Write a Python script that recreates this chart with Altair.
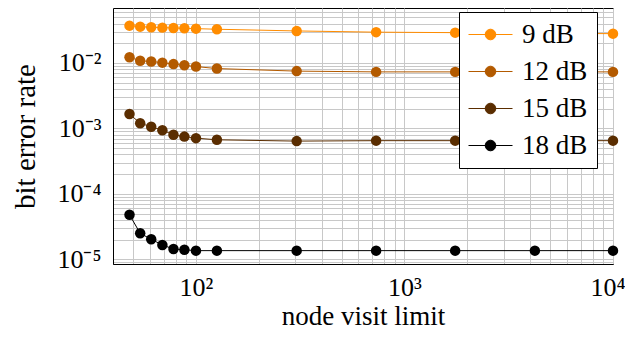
import altair as alt
import pandas as pd

# Data
node_limit = [48, 54, 61, 69, 78, 88, 100, 126, 304, 731, 1750, 4220, 10000]
series_names = ["9 dB", "12 dB", "15 dB", "18 dB"]
ber_9 = [0.0371, 0.0358, 0.0351, 0.0346, 0.0342, 0.0339, 0.0334, 0.0327, 0.0308, 0.0295, 0.0290, 0.0283, 0.0280]
ber_12 = [0.0122, 0.0108, 0.0105, 0.0101, 0.0096, 0.0092, 0.0088, 0.0082, 0.0075, 0.0073, 0.0073, 0.0073, 0.0073]
ber_15 = [0.00166, 0.00120, 0.00106, 0.00094, 0.00080, 0.00075, 0.00071, 0.00067, 0.00064, 0.00065, 0.00065, 0.00065, 0.00065]
ber_18 = [4.8e-5, 2.5e-5, 2.03e-5, 1.66e-5, 1.44e-5, 1.40e-5, 1.36e-5, 1.36e-5, 1.36e-5, 1.36e-5, 1.36e-5, 1.36e-5, 1.36e-5]
colors = ["#ff8c00", "#b35a00", "#5a2d00", "#000000"]

x_grid = [40, 50, 60, 70, 80, 90, 100, 200, 300, 400, 500, 600, 700, 800, 900,
          1000, 2000, 3000, 4000, 5000, 6000, 7000, 8000, 9000, 10000]
y_grid = [9e-6,
          1e-5, 2e-5, 3e-5, 4e-5, 5e-5, 6e-5, 7e-5, 8e-5, 9e-5,
          1e-4, 2e-4, 3e-4, 4e-4, 5e-4, 6e-4, 7e-4, 8e-4, 9e-4,
          1e-3, 2e-3, 3e-3, 4e-3, 5e-3, 6e-3, 7e-3, 8e-3, 9e-3,
          1e-2, 2e-2, 3e-2, 4e-2, 5e-2, 6e-2]

rows = []
for name, vals in zip(series_names, [ber_9, ber_12, ber_15, ber_18]):
    for xv, yv in zip(node_limit, vals):
        rows.append({"limit": xv, "ber": yv, "series": name})
df = pd.DataFrame(rows)

FONT = "Liberation Serif"

x_label_expr = ("abs(log(datum.value)/LN10 - round(log(datum.value)/LN10)) > 0.001 ? '' : "
                "round(log(datum.value)/LN10) == 2 ? '10\u00b2' : "
                "round(log(datum.value)/LN10) == 3 ? '10\u00b3' : "
                "round(log(datum.value)/LN10) == 4 ? '10\u2074' : ''")
y_label_expr = ("abs(log(datum.value)/LN10 - round(log(datum.value)/LN10)) > 0.001 ? '' : "
                "round(log(datum.value)/LN10) == -2 ? '10\u207b\u00b2' : "
                "round(log(datum.value)/LN10) == -3 ? '10\u207b\u00b3' : "
                "round(log(datum.value)/LN10) == -4 ? '10\u207b\u2074' : "
                "round(log(datum.value)/LN10) == -5 ? '10\u207b\u2075' : ''")

x_enc = alt.X("limit:Q",
              scale=alt.Scale(type="log", domain=[40, 10000], nice=False),
              axis=alt.Axis(title="node visit limit", values=x_grid, labelExpr=x_label_expr,
                            ticks=False, labelOverlap=False, labelFlush=True, labelFlushOffset=12,
                            labelPadding=10, titlePadding=3, titleFontSize=27))
y_enc = alt.Y("ber:Q",
              scale=alt.Scale(type="log", domain=[8.5e-6, 0.069], nice=False),
              axis=alt.Axis(title="bit error rate", values=y_grid, labelExpr=y_label_expr,
                            ticks=False, labelOverlap=False, labelFlush=False,
                            labelPadding=12, titlePadding=16, titleFontSize=29))

legend_symbol = "M-2.2,0L2.2,0M-0.53,0A0.53,0.53,0,1,1,0.53,0A0.53,0.53,0,1,1,-0.53,0Z"
leg = alt.Legend(
    title=None, orient="none", legendX=346, legendY=4,
    symbolType=legend_symbol, symbolSize=400, symbolStrokeWidth=1,
    symbolOffset=9, labelOffset=18, rowPadding=9, padding=9,
    fillColor="white", strokeColor="black", labelFont=FONT,
    labelFontSize=27, labelColor="black", cornerRadius=0,
    symbolOpacity=1,
)

scale = alt.Scale(domain=series_names, range=colors)

lines = alt.Chart(df).mark_line(strokeWidth=1).encode(
    x=x_enc, y=y_enc,
    color=alt.Color("series:N", scale=scale, legend=leg, sort=series_names),
)
points = alt.Chart(df).mark_point(filled=True, size=110, opacity=1).encode(
    x=x_enc, y=y_enc,
    color=alt.Color("series:N", scale=scale, legend=leg, sort=series_names),
)

chart = alt.layer(lines, points).properties(
    width=500, height=256,
    autosize=alt.AutoSizeParams(type="none"),
    padding={"left": 105, "top": 0, "right": 12, "bottom": 67},
).configure_view(
    stroke="black", strokeWidth=1
).configure_axis(
    grid=True, gridColor="#c8c8c8", gridWidth=1, gridOpacity=1,
    domainColor="black", domainWidth=1,
    labelFont=FONT, labelFontSize=26, labelColor="black",
    titleFont=FONT, titleFontWeight="normal", titleColor="black",
).configure_axisX(labelBaseline="top")

chart.save("out.html", embed_options={"renderer": "svg", "actions": False})
